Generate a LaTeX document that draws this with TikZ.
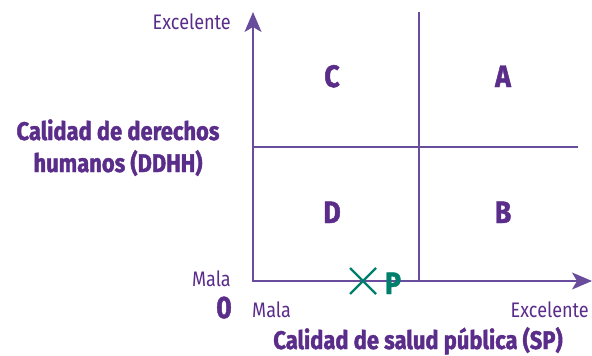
\documentclass[tikz,border=0pt]{standalone}
\usepackage{fontspec}
\setmainfont{Fira Sans}[FakeStretch=0.86, BoldFeatures={FakeBold=1.5}]
\usetikzlibrary{arrows.meta,calc}
\definecolor{txtpurple}{HTML}{5A2D8A}
\definecolor{linepurple}{HTML}{6A4C9C}
\definecolor{teal}{HTML}{00806C}
\tikzset{
  axisline/.style={draw=linepurple, line width=1.1pt},
  axisarrow/.style={axisline, -{Stealth[length=20pt,width=17pt,inset=5pt]}},
  quadlabel/.style={text=txtpurple, font=\fontsize{31}{31}\selectfont\bfseries, inner sep=0pt, anchor=base},
  ticklabel/.style={text=txtpurple, font=\fontsize{21}{22}\selectfont, inner sep=0pt},
  titlelabel/.style={text=txtpurple, font=\fontsize{25.5}{30}\selectfont\bfseries, inner sep=0pt, anchor=base},
}
\begin{document}
\begin{tikzpicture}[x=1pt,y=-1pt]
\useasboundingbox (0,0) rectangle (592,356);
\coordinate (O) at (253,281);
\coordinate (ytip) at (253,12);
\coordinate (xtip) at (592,281);
\coordinate (vtop) at (419,12);
\coordinate (vbot) at (419,282);
\coordinate (hl) at (253,147);
\coordinate (hr) at (578,147);
\draw[axisline] (vtop) -- (vbot);
\draw[axisline] (hl) -- (hr);
\draw[axisarrow] (253,282) -- (ytip);
\draw[axisarrow] (O) -- (xtip);
\node[quadlabel] (C) at (332,87) {C};
\node[quadlabel] (A) at (503,87) {A};
\node[quadlabel] (D) at (332,223) {D};
\node[quadlabel] (B) at (503,223) {B};
\node[ticklabel, anchor=base east] (yexc) at (231,30) {Excelente};
\node[ticklabel, anchor=base east] (ymala) at (231,286) {Mala};
\node[quadlabel, anchor=base east] (zero) at (232,318) {0};
\node[ticklabel, anchor=base west] (xmala) at (252,317) {Mala};
\node[ticklabel, anchor=base east] (xexc) at (589,317) {Excelente};
\node[titlelabel] (ytitle1) at (118,140) {Calidad de derechos};
\node[titlelabel] (ytitle2) at (118,172) {humanos (DDHH)};
\node[titlelabel] (xtitle) at (418,349) {Calidad de salud pública (SP)};
\coordinate (P) at (363,281);
\draw[draw=teal, line width=2.3pt] ($(P)+(-13,-13)$) -- ($(P)+(13,13)$) ($(P)+(-13,13)$) -- ($(P)+(13,-13)$);
\node[text=teal, font=\fontsize{31}{31}\selectfont\bfseries, inner sep=0pt, anchor=base] (Plabel) at (393,294) {P};
\end{tikzpicture}
\end{document}
